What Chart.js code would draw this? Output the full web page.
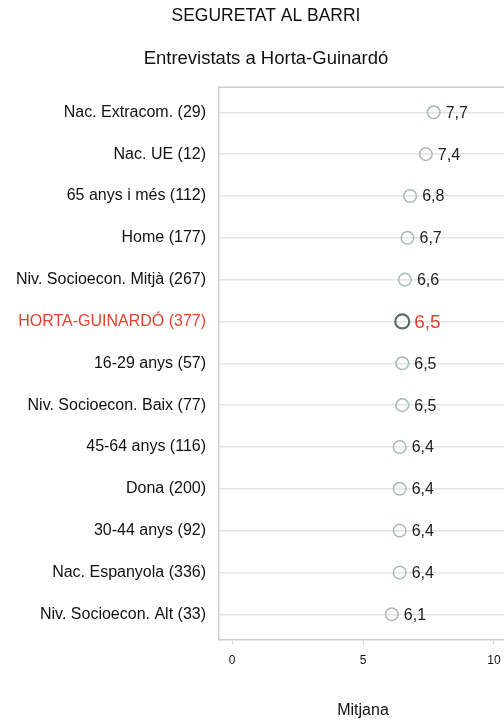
<!DOCTYPE html>
<html lang="ca">
<head>
    <meta charset="UTF-8">
    <title>Seguretat al barri</title>
    <script src="https://cdn.jsdelivr.net/npm/chart.js"></script>
    <style>
        html, body { margin: 0; padding: 0; background: #fff; overflow: hidden; }
        .wrap { width: 530px; height: 720px; position: relative; }
    </style>
</head>
<body>
    <div class="wrap">
        <canvas id="dotChart"></canvas>
    </div>

    <script>
const categories = [
    'Nac. Extracom. (29)',
    'Nac. UE (12)',
    '65 anys i més (112)',
    'Home (177)',
    'Niv. Socioecon. Mitjà (267)',
    'HORTA-GUINARDÓ (377)',
    '16-29 anys (57)',
    'Niv. Socioecon. Baix (77)',
    '45-64 anys (116)',
    'Dona (200)',
    '30-44 anys (92)',
    'Nac. Espanyola (336)',
    'Niv. Socioecon. Alt (33)'
];
const mitjana = [7.7, 7.4, 6.8, 6.7, 6.6, 6.5, 6.5, 6.5, 6.4, 6.4, 6.4, 6.4, 6.1];
const xTicks = [0, 5, 10];
const highlight = 'HORTA-GUINARDÓ (377)';

const red = '#e2412c';
const fontFam = '"Liberation Sans", Arial, sans-serif';
const isHi = i => categories[i] === highlight;

const points = mitjana.map((v, i) => ({ x: v, y: i }));

// value labels next to each dot
const valueLabels = {
    id: 'valueLabels',
    afterDatasetsDraw(chart) {
        const ctx = chart.ctx;
        const meta = chart.getDatasetMeta(0);
        ctx.save();
        ctx.textBaseline = 'middle';
        ctx.textAlign = 'left';
        meta.data.forEach((pt, i) => {
            const hi = isHi(i);
            ctx.fillStyle = hi ? red : '#222';
            ctx.font = (hi ? '19px ' : '16px ') + fontFam;
            ctx.fillText(mitjana[i].toFixed(1).replace('.', ','), pt.x + (hi ? 12 : 12), pt.y + 1);
        });
        ctx.restore();
    }
};

// top edge of the frame, and let the long y labels use the left padding
const frameFix = {
    id: 'frameFix',
    afterLayout(chart) {
        chart.scales.y.left = 0;
    },
    beforeDatasetsDraw(chart) {
        const a = chart.chartArea;
        const ctx = chart.ctx;
        ctx.save();
        ctx.strokeStyle = '#cfcfcf';
        ctx.lineWidth = 1.5;
        ctx.beginPath();
        ctx.moveTo(a.left, a.top);
        ctx.lineTo(a.right, a.top);
        ctx.stroke();
        ctx.restore();
    }
};

new Chart(document.getElementById('dotChart'), {
    type: 'scatter',
    data: {
        datasets: [{
            data: points,
            pointRadius: ctx => isHi(ctx.dataIndex) ? 7 : 6.3,
            pointBorderWidth: ctx => isHi(ctx.dataIndex) ? 2.2 : 1.5,
            pointBorderColor: ctx => isHi(ctx.dataIndex) ? '#5b6e66' : '#a9bab4',
            pointBackgroundColor: 'rgba(255,255,255,0)',
            pointHoverRadius: 6
        }]
    },
    options: {
        responsive: true,
        maintainAspectRatio: false,
        animation: false,
        layout: { padding: { left: 25, right: 23, top: 0, bottom: 0 } },
        plugins: {
            legend: { display: false },
            tooltip: { enabled: false },
            title: {
                display: true,
                text: 'SEGURETAT AL BARRI',
                color: '#111',
                font: { family: fontFam, size: 17.5, weight: 'normal' },
                padding: { top: 6, bottom: 10 }
            },
            subtitle: {
                display: true,
                text: 'Entrevistats a Horta-Guinardó',
                color: '#111',
                font: { family: fontFam, size: 18.5 },
                padding: { top: 11, bottom: 17 }
            }
        },
        scales: {
            x: {
                type: 'linear',
                min: -0.5,
                max: 10.5,
                afterBuildTicks: axis => { axis.ticks = xTicks.map(v => ({ value: v })); },
                grid: {
                    drawOnChartArea: false,
                    drawTicks: true,
                    tickLength: 5,
                    color: '#d9d9d9'
                },
                border: { color: '#cfcfcf', width: 1.5 },
                ticks: {
                    color: '#111',
                    padding: 9,
                    font: { family: fontFam, size: 12 }
                },
                title: {
                    display: true,
                    text: 'Mitjana',
                    color: '#111',
                    font: { family: fontFam, size: 16 },
                    padding: { top: 24, bottom: 0 }
                }
            },
            y: {
                type: 'linear',
                reverse: true,
                min: -0.6,
                max: 12.6,
                afterBuildTicks: axis => { axis.ticks = categories.map((c, i) => ({ value: i })); },
                afterFit: axis => { axis.width = 194; },
                grid: {
                    drawTicks: false,
                    color: '#e3e3e3',
                    lineWidth: 1.5
                },
                border: { color: '#cfcfcf', width: 1.5 },
                ticks: {
                    padding: 13,
                    color: ctx => isHi(ctx.index) ? red : '#111',
                    font: { family: fontFam, size: 16 },
                    callback: (v) => categories[v]
                }
            }
        }
    },
    plugins: [valueLabels, frameFix]
});
</script>
</body>
</html>
